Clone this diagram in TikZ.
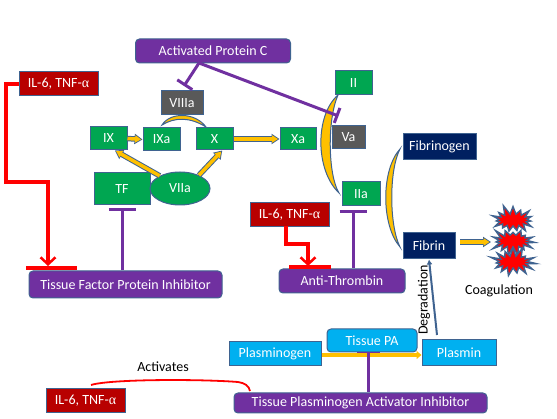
\documentclass[tikz,border=0pt]{standalone}
\usepackage{fontspec}
\setmainfont{Carlito}
\newfontfamily\symf{Liberation Serif}
\usetikzlibrary{arrows.meta,calc,shapes.geometric,shapes.symbols}
\definecolor{edgeblue}{HTML}{3F6390}
\definecolor{pgreen}{HTML}{00A651}
\definecolor{pred}{HTML}{B80000}
\definecolor{ppurple}{HTML}{7030A0}
\definecolor{pnavy}{HTML}{002060}
\definecolor{pcyan}{HTML}{00B0F0}
\definecolor{pgray}{HTML}{595959}
\definecolor{pgold}{HTML}{FFC000}
\tikzset{
  base/.style={draw=edgeblue,line width=1pt,text=white,inner sep=0pt,font=\fontsize{14}{16}\selectfont},
  green/.style={base,fill=pgreen},
  redbox/.style={base,fill=pred,minimum width=79pt,minimum height=24pt},
  grey/.style={base,fill=pgray},
  navy/.style={base,fill=pnavy},
  cyanbox/.style={base,fill=pcyan},
  purp/.style={base,fill=ppurple,rounded corners=4pt},
  crescent/.style={draw=edgeblue,line width=1pt,fill=pgold},
  inhib/.style={draw=ppurple,line width=3pt},
  redline/.style={draw=red,line width=3.4pt},
  goldouter/.style={draw=edgeblue,line width=5.5pt,-{Triangle[length=8pt,width=10pt]}},
  goldinner/.style={draw=pgold,line width=3.5pt,shorten >=1.4pt,-{Triangle[length=6pt,width=7pt]}},
  burst/.style={draw=edgeblue,line width=1.4pt,fill=red,starburst,starburst points=15,starburst point height=10pt,random starburst=#1,minimum width=48pt,minimum height=32pt,inner sep=0pt},
  plain/.style={text=black,inner sep=0pt,font=\fontsize{14}{16}\selectfont}
}
\newcommand{\goldarrow}[2]{\draw[goldouter] #1 -- #2; \draw[goldinner] #1 -- #2;}
\newcommand{\tnf}{IL-6, TNF-{\symf α}}
\begin{document}
\begin{tikzpicture}[x=1pt,y=-1pt]
\useasboundingbox (0,0) rectangle (557,419);
% crescents
\draw[crescent] (162,125) .. controls (170,112) and (195,112) .. (206,127) .. controls (190,117) and (175,117) .. (162,125) -- cycle;
\draw[crescent] (338,95) .. controls (315,115) and (315,170) .. (339,193) .. controls (328,175) and (327,120) .. (338,95) -- cycle;
\draw[crescent] (400,149) .. controls (381,170) and (381,225) .. (400,247) .. controls (389,225) and (389,170) .. (400,149) -- cycle;
% nodes
\node[purp,minimum width=155pt,minimum height=24pt] (apc) at (213,51) {Activated Protein C};
\node[redbox] (il1) at (58.5,84) {\tnf};
\node[grey,minimum width=42pt,minimum height=24pt] (viii) at (182,103) {VIIIa};
\node[green,minimum width=37pt,minimum height=23pt] (ix) at (108.5,138.5) {IX};
\node[green,minimum width=37pt,minimum height=23pt] (ixa) at (161.5,139.5) {IXa};
\node[green,minimum width=37pt,minimum height=22pt] (x) at (214.5,139) {X};
\node[green,minimum width=36pt,minimum height=22pt] (xa) at (298,139) {Xa};
\node[green,minimum width=56pt,minimum height=32pt] (tf) at (122,189) {TF};
\node[base,fill=pgreen,ellipse,minimum width=60pt,minimum height=33pt] (viia) at (180,188.5) {VIIa};
\node[green,minimum width=37pt,minimum height=24pt] (ii) at (353.5,83) {II};
\node[grey,minimum width=33pt,minimum height=23pt] (va) at (348.5,137.5) {Va};
\node[green,minimum width=38pt,minimum height=24pt] (iia) at (361,194) {IIa};
\node[navy,minimum width=73pt,minimum height=26pt] (fgn) at (439.5,147) {Fibrinogen};
\node[navy,minimum width=52pt,minimum height=26pt] (fib) at (429,246) {Fibrin};
\node[redbox] (il2) at (289.5,215) {\tnf};
\node[purp,minimum width=126pt,minimum height=24pt] (at) at (342,281) {Anti-Thrombin};
\node[purp,minimum width=193pt,minimum height=27pt] (tfpi) at (125.5,284.5) {Tissue Factor Protein Inhibitor};
\node[cyanbox,minimum width=92pt,minimum height=24pt] (pgn) at (275,354) {Plasminogen};
\node[cyanbox,minimum width=74pt,minimum height=26pt] (pln) at (459,353) {Plasmin};
\node[purp,minimum width=253pt,minimum height=20pt] (tpai) at (360.5,403) {Tissue Plasminogen Activator Inhibitor};
\node[redbox] (il3) at (85.5,401) {\tnf};
\node[burst=11] (b1) at (513,220) {};
\node[burst=23] (b2) at (513,241) {};
\node[burst=37] (b3) at (513,262) {};
\node[plain] (coag) at (499,291) {Coagulation};
\node[plain,rotate=90] (deg) at (424,300) {Degradation};
\node[plain] (act) at (163,367) {Activates};
% gold arrows
\goldarrow{(ix.east)}{(ixa.west)}
\goldarrow{(x.east)}{(xa.west)}
\goldarrow{(viia.148)}{(ix.-62)}
\goldarrow{(viia.35)}{(x.-56)}
\coordinate (fibout) at (460,242);
\coordinate (burstin) at (491,242);
\goldarrow{(fibout)}{(burstin)}
% plasmin to fibrin
\coordinate (degfrom) at (437,335);
\draw[-{Latex[length=5pt,width=6pt]},draw=edgeblue,line width=2pt] (degfrom) -- (fib.south);
% inhibition
\draw[inhib,-{Bar[width=27pt,line width=3pt]}] (tf.south |- tfpi.north) -- ($(tf.south)+(0,3)$);
\coordinate (atfrom) at (353,268);
\coordinate (atto) at (353,210);
\draw[inhib,-{Bar[width=27pt,line width=3pt]}] (atfrom) -- (atto);
\coordinate (apcout) at (199,63);
\coordinate (viiibar) at (184,86);
\coordinate (vabar) at (338.5,116);
\draw[inhib,-{Bar[width=18pt,line width=3pt]}] (apcout) -- (viiibar);
\draw[inhib,-{Bar[width=16pt,line width=3pt]}] (apcout) -- (vabar);
% red lines
\coordinate (r1end) at (48,266);
\draw[redline,line join=miter,-{Straight Barb[length=7pt,width=15pt,line width=2.5pt]}] (il1.west) -- (6,84) -- (6,182) -- (48,182) -- (r1end);
\coordinate (r1a) at (26,268);
\coordinate (r1b) at (77,268);
\draw[redline] (r1a) -- (r1b);
\coordinate (r2start) at (286,226);
\coordinate (r2end) at (308,266);
\draw[redline,-{Straight Barb[length=7pt,width=15pt,line width=2.5pt]}] (r2start) -- (286,244) -- (308,244) -- (r2end);
\coordinate (r2a) at (289,267);
\coordinate (r2b) at (331,267);
\draw[redline] (r2a) -- (r2b);
% plasminogen system
\node[cyanbox,rounded corners=4pt,minimum width=90pt,minimum height=23pt] (tpa) at (372,340.5) {Tissue PA};
\coordinate (tpa1) at (357,353.5);
\coordinate (tpa2) at (380,353.5);
\draw[draw=ppurple,line width=2.5pt] (tpa1) -- (tpa2);
\draw[draw=pgold,line width=3.6pt,-{Triangle[length=5pt,width=8pt]}] (pgn.east |- 0,355) -- (pln.west |- 0,355);
\draw[inhib] (tpai.north -| 368,0) -- (368,353);
% activates
\coordinate (acta) at (91,385);
\coordinate (actb) at (250,391);
\draw[draw=red,line width=1.8pt] (acta) .. controls (110,379) and (200,379) .. (238,382) .. controls (245,383) and (249,386) .. (actb);
\end{tikzpicture}
\end{document}
